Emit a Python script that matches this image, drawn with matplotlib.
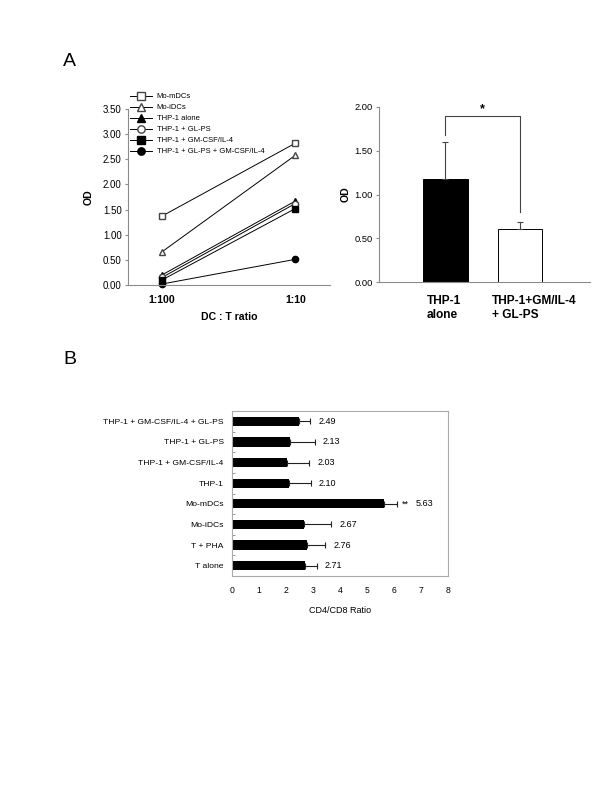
import matplotlib
matplotlib.use("Agg")
import matplotlib.pyplot as plt
from matplotlib.lines import Line2D
import numpy as np

plt.rcParams['font.family'] = ['Liberation Sans', 'DejaVu Sans']

# ---------------- Data ----------------
ratio_labels = ["1:100", "1:10"]
line_series = ["Mo-mDCs", "Mo-iDCs", "THP-1 alone", "THP-1 + GL-PS",
               "THP-1 + GM-CSF/IL-4", "THP-1 + GL-PS + GM-CSF/IL-4"]
od_mo_mdcs = [1.37, 2.82]
od_mo_idcs = [0.66, 2.58]
od_thp1_alone = [0.20, 1.67]
od_thp1_glps = [0.15, 1.62]
od_thp1_gm = [0.10, 1.52]
od_thp1_glps_gm = [0.02, 0.51]

bar_a_labels = ["THP-1\nalone", "THP-1+GM/IL-4\n+ GL-PS"]
bar_a_values = [1.18, 0.61]
bar_a_errors = [0.42, 0.08]

b_categories = ["T alone", "T + PHA", "Mo-iDCs", "Mo-mDCs", "THP-1",
                "THP-1 + GM-CSF/IL-4", "THP-1 + GL-PS", "THP-1 + GM-CSF/IL-4 + GL-PS"]
b_values = [2.71, 2.76, 2.67, 5.63, 2.10, 2.03, 2.13, 2.49]
b_errors = [0.42, 0.70, 1.00, 0.47, 0.82, 0.83, 0.93, 0.40]
b_value_labels = ["2.71", "2.76", "2.67", "5.63", "2.10", "2.03", "2.13", "2.49"]
b_sig = ["", "", "", "**", "", "", "", ""]

GRAY = "#8c8c8c"

fig = plt.figure(figsize=(6, 8), dpi=100)

def px_axes(x0, y0, x1, y1):
    return fig.add_axes([x0 / 600, 1 - y1 / 800, (x1 - x0) / 600, (y1 - y0) / 800])

# ---------------- Panel A left ----------------
ax1 = px_axes(128, 109, 330, 285)
xpos = [1, 2]
styles = [
    dict(marker='s', mfc='white', mec='#444444', ms=4.5),
    dict(marker='^', mfc='white', mec='#444444', ms=5),
    dict(marker='^', mfc='black', mec='black', ms=5),
    dict(marker='o', mfc='white', mec='#444444', ms=4.5),
    dict(marker='s', mfc='black', mec='black', ms=4.5),
    dict(marker='o', mfc='black', mec='black', ms=4.5),
]
series = [od_mo_mdcs, od_mo_idcs, od_thp1_alone, od_thp1_glps, od_thp1_gm, od_thp1_glps_gm]
for name, vals, st in zip(line_series, series, styles):
    ax1.plot(xpos, vals, color='black', lw=0.7, label=name, clip_on=False, **st)
ax1.set_xlim(0.745, 2.26)
ax1.set_ylim(0, 3.5)
yt1 = np.arange(0, 3.51, 0.5)
ax1.set_yticks(yt1)
ax1.set_yticklabels([f"{v:.2f}" for v in yt1], fontsize=7)
ax1.set_xticks(xpos)
ax1.set_xticklabels(ratio_labels, fontsize=7.6, fontweight='bold')
ax1.tick_params(axis='x', length=0, pad=7)
ax1.tick_params(axis='y', length=2.5, color=GRAY, pad=2)
for s in ['top', 'right']:
    ax1.spines[s].set_visible(False)
for s in ['left', 'bottom']:
    ax1.spines[s].set_color(GRAY)
    ax1.spines[s].set_linewidth(0.8)
ax1.set_ylabel("OD", fontsize=7.6, fontweight='bold', labelpad=7)
ax1.set_xlabel("DC : T ratio", fontsize=7.6, fontweight='bold', labelpad=5)

leg_handles = []
for st in styles:
    st2 = dict(st)
    st2['ms'] = st['ms'] + 0.8
    leg_handles.append(Line2D([0], [0], color='black', lw=0.7, **st2))
fig.legend(leg_handles, line_series, loc='upper left',
           bbox_to_anchor=(130 / 600, 1 - 93 / 800), frameon=False, fontsize=5.5,
           handlelength=2.9, handletextpad=0.6, labelspacing=0.48,
           borderpad=0, borderaxespad=0)

fig.text(63 / 600, 1 - 62 / 800, "A", fontsize=14, va='center', ha='left')

# ---------------- Panel A right ----------------
ax2 = px_axes(379, 107, 590, 282)
bx = np.arange(len(bar_a_values))
ax2.bar(bx, bar_a_values, width=0.6, color=['black', 'white'], edgecolor='black', lw=0.7)
ax2.errorbar(bx, bar_a_values, yerr=[np.zeros(len(bar_a_errors)), bar_a_errors],
             fmt='none', ecolor='#444444', elinewidth=0.8, capsize=2, capthick=0.8)
ax2.set_xlim(-0.89, 1.94)
ax2.set_ylim(0, 2.0)
yt = np.arange(0, 2.01, 0.5)
ax2.set_yticks(yt)
ax2.set_yticklabels([f"{v:.2f}" for v in yt], fontsize=6.7)
ax2.set_xticks(bx)
ax2.set_xticklabels([])
ax2.tick_params(axis='x', length=0)
ax2.tick_params(axis='y', length=2.5, color=GRAY, pad=2)
for s in ['top', 'right']:
    ax2.spines[s].set_visible(False)
for s in ['left', 'bottom']:
    ax2.spines[s].set_color(GRAY)
    ax2.spines[s].set_linewidth(0.8)
ax2.set_ylabel("OD", fontsize=7.6, fontweight='bold', labelpad=3)
label_offsets = [-0.25, -0.38]
for xi, lab, off in zip(bx, bar_a_labels, label_offsets):
    ax2.text(xi + off, -0.15, lab, ha='left', va='top', fontsize=8.6, fontweight='bold',
             linespacing=1.2, transform=ax2.transData, clip_on=False)
# significance bracket
ax2.plot([0, 0, 1, 1], [1.68, 1.90, 1.90, 0.80], color='#444444', lw=0.8, clip_on=False)
ax2.text(0.5, 1.97, "*", ha='center', va='center', fontsize=9, fontweight='bold')

# ---------------- Panel B ----------------
ax3 = px_axes(232, 411, 448, 576)
yp = np.arange(len(b_categories))
ax3.barh(yp, b_values, height=0.45, color='black')
ax3.errorbar(b_values, yp, xerr=[np.zeros(len(b_errors)), b_errors], fmt='none',
             ecolor='#222222', elinewidth=0.8, capsize=2, capthick=0.8)
for y, v, e, lab, sig in zip(yp, b_values, b_errors, b_value_labels, b_sig):
    if sig:
        ax3.text(v + e + 0.2, y, sig, ha='left', va='center', fontsize=6.5)
        ax3.text(v + e + 0.7, y, lab, ha='left', va='center', fontsize=6.5)
    else:
        ax3.text(v + e + 0.3, y, lab, ha='left', va='center', fontsize=6.5)
ax3.set_xlim(0, 8)
ax3.set_ylim(-0.5, 7.5)
ax3.set_xticks(range(0, 9))
ax3.set_xticklabels([str(i) for i in range(0, 9)], fontsize=6.2)
ax3.set_yticks(yp)
ax3.set_yticklabels(b_categories, fontsize=6.1)
ax3.tick_params(axis='both', length=0)
ax3.tick_params(axis='y', pad=6)
ax3.tick_params(axis='x', pad=7)
ax3.set_yticks(np.arange(-0.5, 7.6, 1.0), minor=True)
ax3.tick_params(axis='y', which='minor', length=2, direction='in', color=GRAY)
for s in ax3.spines.values():
    s.set_color('#aaaaaa')
    s.set_linewidth(0.8)
ax3.set_xlabel("CD4/CD8 Ratio", fontsize=6.5, labelpad=8)

fig.text(63 / 600, 1 - 360 / 800, "B", fontsize=14, va='center', ha='left')

fig.savefig("out.png", dpi=100, facecolor='white')
